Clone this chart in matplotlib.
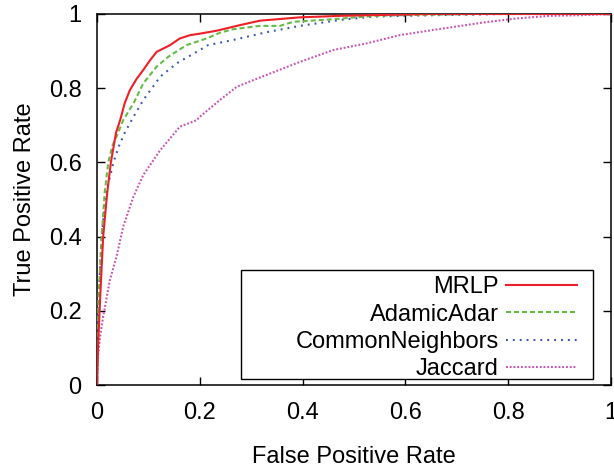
import matplotlib
matplotlib.use("Agg")
import matplotlib.pyplot as plt
from matplotlib.patches import Rectangle

# ROC curves
mrlp_fpr = [0.0, 0.002, 0.006, 0.012, 0.020, 0.027, 0.037, 0.045, 0.054, 0.064, 0.077,
            0.090, 0.103, 0.116, 0.142, 0.161, 0.181, 0.200, 0.233, 0.278, 0.317,
            0.395, 0.473, 0.537, 0.650, 0.800, 1.0]
mrlp_tpr = [0.0, 0.10, 0.23, 0.40, 0.52, 0.60, 0.68, 0.714, 0.760, 0.795, 0.825,
            0.849, 0.875, 0.898, 0.916, 0.934, 0.943, 0.947, 0.955, 0.970, 0.982,
            0.991, 0.995, 0.997, 1.0, 1.0, 1.0]

aa_fpr = [0.0, 0.001, 0.003, 0.009, 0.015, 0.022, 0.030, 0.041, 0.051, 0.071,
          0.090, 0.116, 0.139, 0.174, 0.213, 0.240, 0.265, 0.317, 0.356,
          0.382, 0.460, 0.537, 0.600, 0.750, 1.0]
aa_tpr = [0.0, 0.12, 0.23, 0.40, 0.52, 0.60, 0.645, 0.68, 0.714, 0.759,
          0.813, 0.858, 0.885, 0.916, 0.934, 0.950, 0.959, 0.968, 0.968,
          0.979, 0.986, 0.995, 0.997, 1.0, 1.0]

cn_fpr = [0.0, 0.001, 0.003, 0.009, 0.018, 0.032, 0.043, 0.054, 0.071, 0.090,
          0.123, 0.155, 0.194, 0.216, 0.233, 0.265, 0.330, 0.395, 0.473,
          0.537, 0.622, 0.800, 1.0]
cn_tpr = [0.0, 0.12, 0.23, 0.40, 0.52, 0.60, 0.645, 0.68, 0.723, 0.768,
          0.831, 0.867, 0.898, 0.916, 0.921, 0.930, 0.951, 0.968, 0.984,
          0.993, 0.996, 1.0, 1.0]

jac_fpr = [0.0, 0.002, 0.006, 0.012, 0.025, 0.038, 0.051, 0.071, 0.090, 0.123,
           0.161, 0.194, 0.200, 0.239, 0.272, 0.330, 0.395, 0.460, 0.525, 0.589,
           0.654, 0.751, 0.817, 0.881, 0.946, 1.0]
jac_tpr = [0.0, 0.08, 0.13, 0.184, 0.283, 0.346, 0.427, 0.508, 0.566, 0.633,
           0.696, 0.714, 0.723, 0.768, 0.804, 0.836, 0.871, 0.903, 0.921, 0.943,
           0.957, 0.977, 0.988, 0.995, 0.997, 1.0]

series_names = ["MRLP", "AdamicAdar", "CommonNeighbors", "Jaccard"]
ticks = [0, 0.2, 0.4, 0.6, 0.8, 1]
tick_labels = ["0", "0.2", "0.4", "0.6", "0.8", "1"]

plt.rcParams["font.family"] = ["Liberation Sans", "DejaVu Sans"]
plt.rcParams["font.size"] = 17

fig = plt.figure(figsize=(6.14, 4.67), dpi=100)
ax = fig.add_axes([97/614, 1-385/467, 514/614, 371/467])

lw = 1.5
ax.plot(mrlp_fpr, mrlp_tpr, color="#ee1f26", lw=lw, label=series_names[0], zorder=5)
ax.plot(aa_fpr, aa_tpr, color="#64bb45", lw=lw, dashes=(2.4, 1.44), label=series_names[1], zorder=4)
ax.plot(cn_fpr, cn_tpr, color="#3a56ad", lw=lw, dashes=(0.9, 2.4), label=series_names[2], zorder=3)
ax.plot(jac_fpr, jac_tpr, color="#cc55b0", lw=lw, dashes=(0.9, 0.9), label=series_names[3], zorder=2)

ax.set_xlim(0, 1)
ax.set_ylim(0, 1)
ax.set_xticks(ticks)
ax.set_xticklabels(tick_labels)
ax.set_yticks(ticks)
ax.set_yticklabels(tick_labels)
ax.tick_params(direction="in", length=5.5, width=1.0, top=True, right=True,
               labelsize=17, color="black")
ax.tick_params(axis="x", pad=12)
ax.tick_params(axis="y", pad=11)
for s in ax.spines.values():
    s.set_linewidth(1.1)

ax.set_xlabel("False Positive Rate", fontsize=17, labelpad=16)
ax.set_ylabel("True Positive Rate", fontsize=17, labelpad=9)

leg = ax.legend(loc="lower right", bbox_to_anchor=(0.952, -0.012), frameon=False,
                markerfirst=False, handlelength=3.0, handletextpad=0.3,
                labelspacing=0.22, borderaxespad=0, fontsize=17)
ax.add_patch(Rectangle((0.280, 0.016), 0.685, 0.294, transform=ax.transAxes,
                       facecolor="white", edgecolor="black", lw=1.0, zorder=6))
leg.set_zorder(7)

fig.savefig("out.png", dpi=100)
